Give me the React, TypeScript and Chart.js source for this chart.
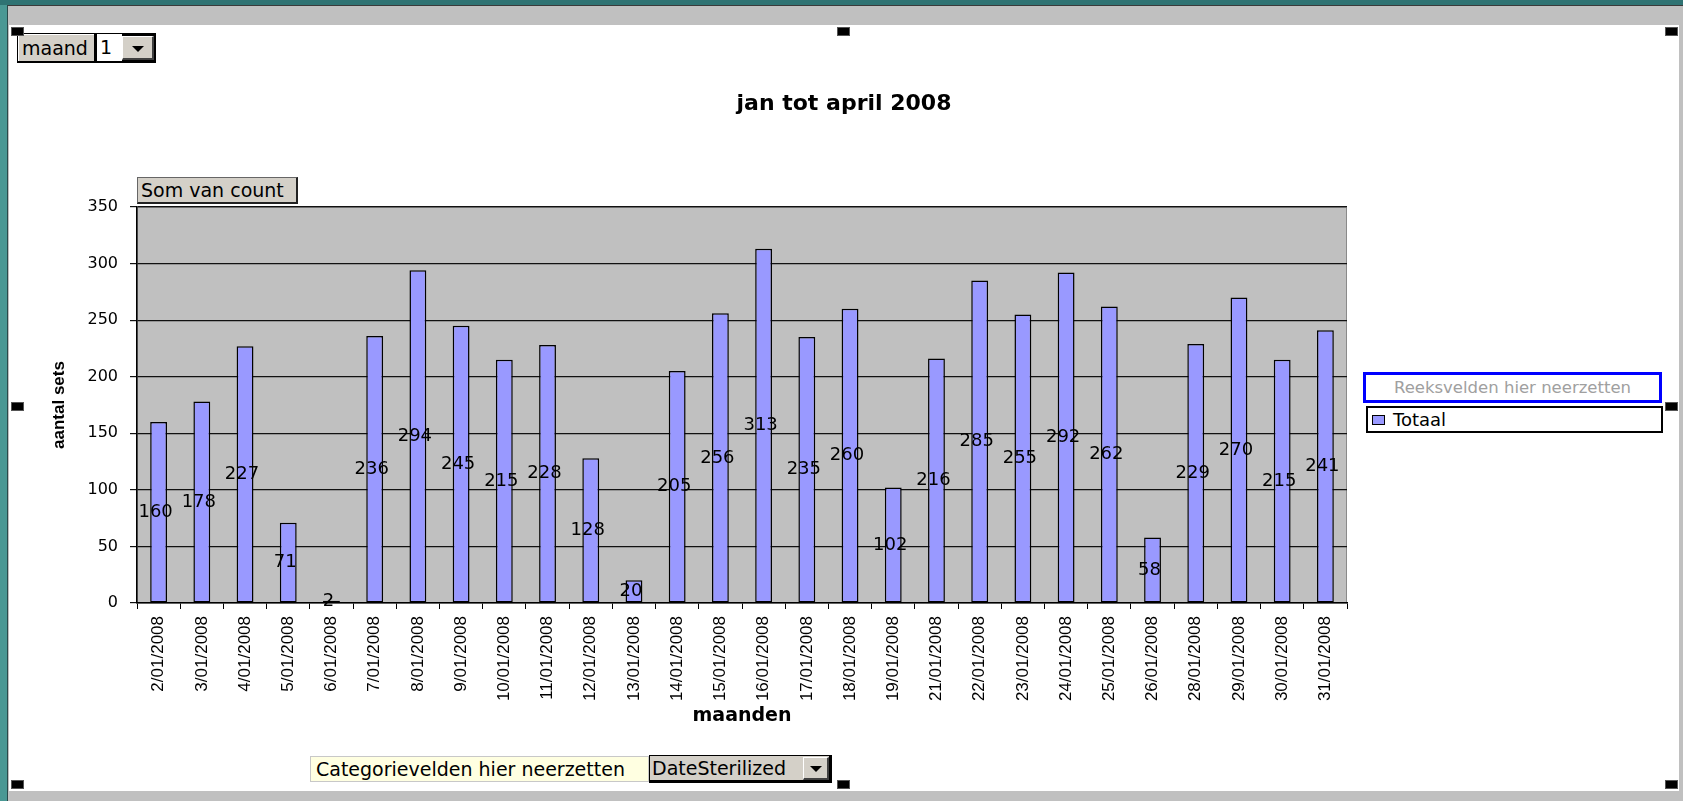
import React, { useEffect, useRef } from "react";
import { Chart, registerables } from "chart.js";

Chart.register(...registerables);

const categories: string[] = [
  "2/01/2008", "3/01/2008", "4/01/2008", "5/01/2008", "6/01/2008", "7/01/2008",
  "8/01/2008", "9/01/2008", "10/01/2008", "11/01/2008", "12/01/2008", "13/01/2008",
  "14/01/2008", "15/01/2008", "16/01/2008", "17/01/2008", "18/01/2008", "19/01/2008",
  "21/01/2008", "22/01/2008", "23/01/2008", "24/01/2008", "25/01/2008", "26/01/2008",
  "28/01/2008", "29/01/2008", "30/01/2008", "31/01/2008",
];
const totals: number[] = [
  160, 178, 227, 71, 2, 236, 294, 245, 215, 228, 128, 20, 205, 256,
  313, 235, 260, 102, 216, 285, 255, 292, 262, 58, 229, 270, 215, 241,
];
const yMin = 0;
const yMax = 350;
const yStep = 50;
const chartTitle = "jan tot april 2008";
const xTitle = "maanden";
const yTitle = "aantal sets";
const seriesName = "Totaal";
const pageField = "maand";
const pageValue = "1";
const dataField = "Som van count";
const seriesDrop = "Reeksvelden hier neerzetten";
const categoryDrop = "Categorievelden hier neerzetten";
const categoryField = "DateSterilized";

const UI_FONT = "'DejaVu Sans', sans-serif";

const plotBg = {
  id: "plotBg",
  beforeDraw(chart: any) {
    const { ctx, chartArea: a } = chart;
    ctx.save();
    ctx.fillStyle = "#C0C0C0";
    ctx.fillRect(a.left, a.top, a.right - a.left, a.bottom - a.top);
    ctx.strokeStyle = "#8a8a8a";
    ctx.lineWidth = 1;
    ctx.strokeRect(a.left + 0.5, a.top + 0.5, a.right - a.left - 1, a.bottom - a.top - 1);
    ctx.restore();
  },
};

const barLabels = {
  id: "barLabels",
  afterDatasetsDraw(chart: any) {
    const meta = chart.getDatasetMeta(0);
    const ctx = chart.ctx;
    ctx.save();
    ctx.font = "18px 'DejaVu Sans'";
    ctx.fillStyle = "#000";
    ctx.textAlign = "center";
    ctx.textBaseline = "middle";
    meta.data.forEach((bar: any, i: number) => {
      const p = bar.getProps(["x", "y", "base"], true);
      ctx.fillText(String(totals[i]), p.x - 3, (p.y + p.base) / 2);
    });
    ctx.restore();
  },
};

function Handle({ x, y }: { x: number; y: number }) {
  return (
    <div
      style={{
        position: "absolute",
        left: x,
        top: y,
        width: 13,
        height: 9,
        background: "#000",
        boxSizing: "border-box",
        border: "1px solid #555",
      }}
    />
  );
}

function DropButton({ x, y, w, h }: { x: number; y: number; w: number; h: number }) {
  return (
    <div
      style={{
        position: "absolute",
        left: x,
        top: y,
        width: w,
        height: h,
        background: "#D4D0C8",
        boxSizing: "border-box",
        borderTop: "1px solid #fff",
        borderLeft: "1px solid #fff",
        borderRight: "2px solid #404040",
        borderBottom: "2px solid #404040",
        display: "flex",
        alignItems: "center",
        justifyContent: "center",
      }}
    >
      <div
        style={{
          width: 0,
          height: 0,
          borderLeft: "6px solid transparent",
          borderRight: "6px solid transparent",
          borderTop: "6px solid #000",
          marginTop: 2,
        }}
      />
    </div>
  );
}

export default function App() {
  const canvasRef = useRef<HTMLCanvasElement | null>(null);

  useEffect(() => {
    if (!canvasRef.current) return;
    const chart = new Chart(canvasRef.current, {
      type: "bar",
      data: {
        labels: categories,
        datasets: [
          {
            label: seriesName,
            data: totals,
            backgroundColor: "#9999FF",
            borderColor: "#000",
            borderWidth: 1.5,
            borderSkipped: false,
            barPercentage: 0.39,
            categoryPercentage: 1,
          },
        ],
      },
      options: {
        responsive: false,
        animation: false,
        layout: { padding: 0 },
        plugins: {
          legend: { display: false },
          tooltip: { enabled: false },
          title: {
            display: true,
            text: chartTitle,
            color: "#000",
            font: { family: "DejaVu Sans", size: 22, weight: "bold" },
            padding: { top: 65.8, bottom: 89.8 },
          },
        },
        scales: {
          x: {
            grid: {
              display: true,
              drawOnChartArea: false,
              drawTicks: true,
              tickLength: 6,
              color: "#000",
              lineWidth: 1,
              offset: true,
            },
            border: { display: true, color: "#000", width: 1.5 },
            ticks: {
              autoSkip: false,
              maxRotation: 90,
              minRotation: 90,
              padding: 7,
              color: "#000",
              font: { family: "Liberation Sans", size: 17 },
            },
            title: {
              display: true,
              text: xTitle,
              color: "#000",
              font: { family: "DejaVu Sans", size: 19, weight: "bold" },
              padding: { top: 0, bottom: 63.6 },
            },
            afterFit(scale: any) {
              scale.height = 188;
            },
          },
          y: {
            min: yMin,
            max: yMax,
            ticks: {
              stepSize: yStep,
              padding: 12,
              color: "#000",
              font: { family: "DejaVu Sans", size: 16 },
            },
            grid: { color: "#111", lineWidth: 1.2, tickLength: 7 },
            border: { display: true, color: "#000", width: 1.5 },
            title: {
              display: true,
              text: yTitle,
              color: "#000",
              font: { family: "Liberation Sans", size: 17, weight: "bold" },
              padding: { top: 39.8, bottom: 0 },
            },
            afterFit(scale: any) {
              scale.width = 128;
            },
          },
          yRight: {
            position: "right",
            display: true,
            grid: { display: false },
            ticks: { display: false },
            border: { display: false },
            afterFit(scale: any) {
              scale.width = 332;
            },
          },
        },
      } as any,
      plugins: [plotBg, barLabels],
    });
    return () => chart.destroy();
  }, []);

  const txt: React.CSSProperties = { fontFamily: UI_FONT, color: "#000", whiteSpace: "nowrap" };

  return (
    <div
      style={{
        position: "fixed",
        left: 0,
        top: 0,
        width: 1683,
        height: 801,
        background: "#2F7373",
        overflow: "hidden",
      }}
    >
      <div style={{ position: "absolute", left: 0, top: 5, width: 7, height: 796, background: "#4A9894" }} />
      <div
        style={{
          position: "absolute",
          left: 7,
          top: 5,
          width: 1676,
          height: 796,
          background: "#C0C0C0",
          boxSizing: "border-box",
          borderLeft: "1px solid #2a4a4a",
          borderTop: "1px solid #3a3a3a",
        }}
      />
      <div style={{ position: "absolute", left: 9, top: 25, width: 1670, height: 766, background: "#fff" }} />
      <canvas
        ref={canvasRef}
        width={1670}
        height={766}
        style={{ position: "absolute", left: 9, top: 25, width: 1670, height: 766 }}
      />

      {/* page field */}
      <div style={{ position: "absolute", left: 17, top: 33, width: 139, height: 30, background: "#000" }} />
      <div
        style={{
          ...txt,
          position: "absolute",
          left: 18,
          top: 34,
          width: 76,
          height: 27,
          background: "#D4D0C8",
          boxSizing: "border-box",
          borderTop: "1px solid #fff",
          borderLeft: "1px solid #fff",
          fontSize: 19,
          lineHeight: "26px",
          paddingLeft: 3,
        }}
      >
        {pageField}
      </div>
      <div
        style={{
          ...txt,
          position: "absolute",
          left: 97,
          top: 34,
          width: 25,
          height: 27,
          background: "#fff",
          fontSize: 19,
          lineHeight: "27px",
          paddingLeft: 3,
          boxSizing: "border-box",
        }}
      >
        {pageValue}
      </div>
      <DropButton x={122} y={36} w={32} h={24} />

      {/* data field */}
      <div
        style={{
          ...txt,
          position: "absolute",
          left: 137,
          top: 177,
          width: 161,
          height: 27,
          background: "#D4D0C8",
          boxSizing: "border-box",
          borderTop: "1px solid #666",
          borderLeft: "1px solid #666",
          borderRight: "2px solid #222",
          borderBottom: "2px solid #222",
          fontSize: 19,
          lineHeight: "24px",
          paddingLeft: 3,
        }}
      >
        {dataField}
      </div>

      {/* legend area */}
      <div
        style={{
          ...txt,
          position: "absolute",
          left: 1363,
          top: 372,
          width: 299,
          height: 31,
          background: "#fff",
          boxSizing: "border-box",
          border: "3px solid #0000FF",
          color: "#A0A0A0",
          fontSize: 16.5,
          lineHeight: "25px",
          textAlign: "center",
        }}
      >
        {seriesDrop}
      </div>
      <div
        style={{
          ...txt,
          position: "absolute",
          left: 1366,
          top: 406,
          width: 297,
          height: 27,
          background: "#fff",
          boxSizing: "border-box",
          border: "2px solid #000",
          fontSize: 18,
          lineHeight: "23px",
          paddingLeft: 25,
        }}
      >
        {seriesName}
      </div>
      <div
        style={{
          position: "absolute",
          left: 1372,
          top: 415,
          width: 13,
          height: 10,
          background: "#9999FF",
          boxSizing: "border-box",
          border: "1.5px solid #000",
        }}
      />

      {/* category drop zone */}
      <div
        style={{
          ...txt,
          position: "absolute",
          left: 310,
          top: 756,
          width: 339,
          height: 26,
          background: "#FFFFE1",
          boxSizing: "border-box",
          border: "1px solid #C8C8C8",
          fontSize: 19,
          lineHeight: "24px",
          paddingLeft: 5,
        }}
      >
        {categoryDrop}
      </div>
      <div
        style={{
          ...txt,
          position: "absolute",
          left: 649,
          top: 755,
          width: 183,
          height: 28,
          background: "#D4D0C8",
          boxSizing: "border-box",
          border: "1px solid #000",
          borderRight: "3px solid #000",
          borderBottom: "3px solid #000",
          fontSize: 19,
          lineHeight: "24px",
          paddingLeft: 2,
        }}
      >
        {categoryField}
      </div>
      <DropButton x={803} y={757} w={26} h={23} />

      {/* selection handles */}
      <Handle x={11} y={27} />
      <Handle x={837} y={27} />
      <Handle x={1665} y={27} />
      <Handle x={11} y={402} />
      <Handle x={1665} y={402} />
      <Handle x={11} y={780} />
      <Handle x={837} y={780} />
      <Handle x={1665} y={780} />
    </div>
  );
}
